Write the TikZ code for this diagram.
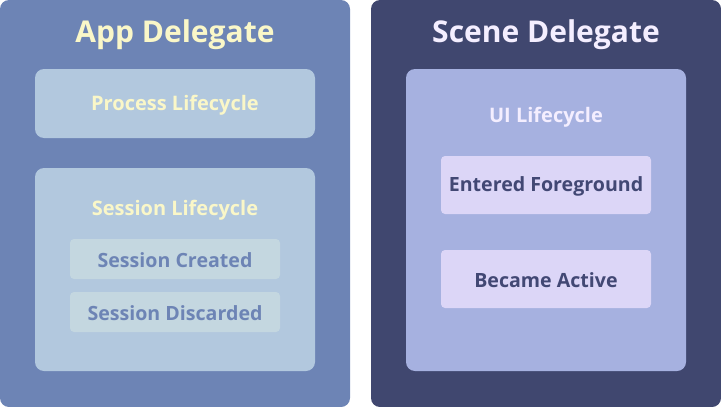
\documentclass[tikz,border=0pt]{standalone}
\usepackage{fontspec}
\setmainfont{Open Sans}
\definecolor{leftbg}{HTML}{6D84B5}
\definecolor{leftin}{HTML}{B2C8DE}
\definecolor{leftsub}{HTML}{C4D7E0}
\definecolor{cream}{HTML}{FAF7C8}
\definecolor{rightbg}{HTML}{40476F}
\definecolor{rightin}{HTML}{A6B1E0}
\definecolor{rightsub}{HTML}{DCD6F7}
\definecolor{rightfg}{HTML}{424874}
\definecolor{lilac}{HTML}{F4EEFF}
\begin{document}
\begin{tikzpicture}[x=1pt,y=-1pt,
  panel/.style={rounded corners=9pt},
  subbox/.style={rounded corners=4pt},
  titlelbl/.style={inner sep=0pt,font=\fontsize{30}{32}\selectfont\bfseries},
  grouplbl/.style={inner sep=0pt,font=\fontsize{20}{22}\selectfont\bfseries},
  itemlbl/.style={inner sep=0pt,font=\fontsize{19.6}{22}\selectfont\bfseries},
]
\useasboundingbox (0,0) rectangle (721,407);
% left panel
\fill[leftbg,panel] (0,0) rectangle (350,407);
\node[titlelbl,text=cream] (apptitle) at (175,35) {App Delegate};
\fill[leftin,panel] (35,69) rectangle (315,138);
\node[grouplbl,text=cream] (process) at (175,105) {Process Lifecycle};
\fill[leftin,panel] (35,168) rectangle (315,371);
\node[grouplbl,text=cream] (session) at (175,210) {Session Lifecycle};
\fill[leftsub,subbox] (70,239) rectangle (280,279);
\node[itemlbl,text=leftbg] (created) at (175,260) {Session Created};
\fill[leftsub,subbox] (70,292) rectangle (280,332);
\node[itemlbl,text=leftbg] (discarded) at (175,313) {Session Discarded};
% right panel
\fill[rightbg,panel] (371,0) rectangle (721,407);
\node[titlelbl,text=lilac] (scenetitle) at (546,35) {Scene Delegate};
\fill[rightin,panel] (406,69) rectangle (686,371);
\node[grouplbl,text=lilac] (ui) at (546,117) {UI Lifecycle};
\fill[rightsub,subbox] (441,156) rectangle (651,214);
\node[itemlbl,text=rightfg] (fg) at (546,186) {Entered Foreground};
\fill[rightsub,subbox] (441,250) rectangle (651,308);
\node[itemlbl,text=rightfg] (active) at (546,280) {Became Active};
\end{tikzpicture}
\end{document}
